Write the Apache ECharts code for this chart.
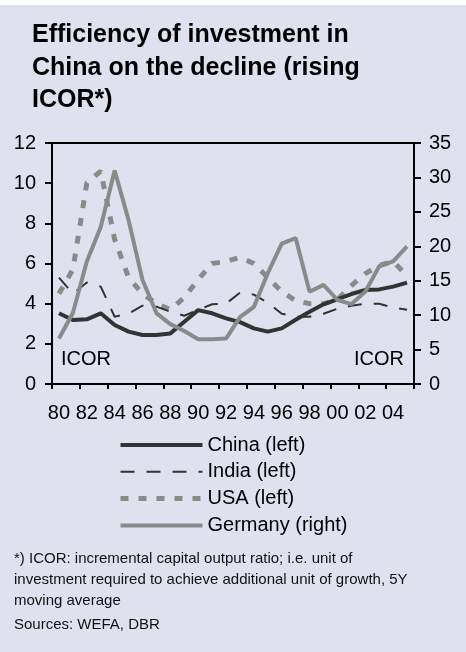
<!DOCTYPE html>
<html>
<head>
<meta charset="utf-8">
<script src="https://cdn.jsdelivr.net/npm/echarts@6/dist/echarts.min.js"></script>
<style>
html,body{margin:0;padding:0;background:#fff;}
#c{width:466px;height:652px;}
</style>
</head>
<body>
<div id="c"></div>
<script>
var years = ['80','81','82','83','84','85','86','87','88','89','90','91','92','93','94','95','96','97','98','99','00','01','02','03','04','05'];
var china   = [3.52,3.19,3.22,3.52,2.94,2.61,2.44,2.44,2.52,3.10,3.68,3.52,3.27,3.08,2.77,2.61,2.77,3.20,3.60,3.97,4.22,4.48,4.68,4.71,4.85,5.05];
var india   = [5.30,4.50,5.05,4.85,3.35,3.50,3.90,3.85,3.60,3.40,3.70,3.97,4.00,4.55,4.45,4.05,3.50,3.35,3.35,3.50,3.75,3.90,4.00,4.00,3.80,3.70];
var usa     = [4.5,5.7,10.0,10.6,7.2,5.3,4.5,4.0,3.7,4.3,5.2,6.0,6.1,6.3,6.0,5.3,4.6,4.15,4.0,4.0,4.2,4.9,5.5,5.9,6.1,5.4];
var germany = [6.6,10.3,17.8,22.8,31.0,23.8,15.1,10.3,8.7,7.7,6.5,6.5,6.6,9.7,11.2,16.1,20.4,21.2,13.4,14.4,12.2,11.6,13.4,17.1,17.8,20.0];
var seriesNames = ['China (left)','India (left)','USA (left)','Germany (right)'];
var titleText = 'Efficiency of investment in\nChina on the decline (rising\nICOR*)';
var footLines = ['*) ICOR: incremental capital output ratio; i.e. unit of',
                 'investment required to achieve additional unit of growth, 5Y',
                 'moving average'];
var sourceText = 'Sources: WEFA, DBR';
var axisLabelText = 'ICOR';

var FONT = '"Liberation Sans", Arial, Helvetica, sans-serif';
var chart = echarts.init(document.getElementById('c'), null, {renderer:'canvas'});
var axisLine = {show:true, lineStyle:{color:'#000', width:2}};
var option = {
  backgroundColor:'#dfe1ef',
  animation:false,
  textStyle:{fontFamily:FONT},
  title:{
    text:titleText, left:32, top:19, padding:0,
    textStyle:{fontFamily:FONT, fontSize:25, fontWeight:'bold', color:'#000', lineHeight:32.5}
  },
  grid:{left:52, right:52, top:143, bottom:268, show:true, borderColor:'#000', borderWidth:2, backgroundColor:'transparent'},
  legend:{
    orient:'vertical', left:118, top:435, itemWidth:82, itemHeight:14, itemGap:6.8,
    padding:0, selectedMode:false,
    itemStyle:{opacity:0},
    lineStyle:{width:'inherit', type:'inherit'},
    textStyle:{fontFamily:FONT, fontSize:20, color:'#000'},
    data:seriesNames
  },
  xAxis:{
    type:'category', data:years, boundaryGap:true,
    axisLine:axisLine,
    axisTick:{show:true, interval:1, length:5, lineStyle:{color:'#000', width:2}},
    axisLabel:{interval:1, margin:19, fontFamily:FONT, fontSize:20, color:'#000'},
    splitLine:{show:false}
  },
  yAxis:[
    {type:'value', min:0, max:12, interval:2, position:'left',
     axisLine:axisLine,
     axisTick:{show:true, length:7, lineStyle:{color:'#000', width:2}},
     axisLabel:{margin:16, fontFamily:FONT, fontSize:20, color:'#000'},
     splitLine:{show:false}},
    {type:'value', min:0, max:35, interval:5, position:'right',
     axisLine:axisLine,
     axisTick:{show:true, length:7, lineStyle:{color:'#000', width:2}},
     axisLabel:{margin:15, fontFamily:FONT, fontSize:20, color:'#000'},
     splitLine:{show:false}}
  ],
  series:[
    {name:seriesNames[0], type:'line', data:china, yAxisIndex:0, symbol:'none', z:5,
     lineStyle:{color:'#333333', width:4}, itemStyle:{color:'#333333'}},
    {name:seriesNames[1], type:'line', data:india, yAxisIndex:0, symbol:'none', z:4,
     lineStyle:{color:'#333333', width:2, type:[14,12]}, itemStyle:{color:'#333333'}},
    {name:seriesNames[2], type:'line', data:usa, yAxisIndex:0, symbol:'none', z:3,
     lineStyle:{color:'#8a8a8a', width:5, type:[8,10]}, itemStyle:{color:'#8a8a8a'}},
    {name:seriesNames[3], type:'line', data:germany, yAxisIndex:1, symbol:'none', z:6,
     lineStyle:{color:'#8a8a8a', width:4}, itemStyle:{color:'#8a8a8a'}}
  ],
  graphic:[
    {type:'rect', shape:{x:0,y:0,width:466,height:5}, style:{fill:'#ffffff'}, silent:true},
    {type:'text', x:61, y:359, style:{text:axisLabelText, font:'20px '+FONT, fill:'#000', align:'left', verticalAlign:'middle'}},
    {type:'text', x:404, y:359, style:{text:axisLabelText, font:'20px '+FONT, fill:'#000', align:'right', verticalAlign:'middle'}},
    {type:'text', x:14, y:558.5, style:{text:footLines[0], font:'15px '+FONT, fill:'#111', align:'left', verticalAlign:'middle'}},
    {type:'text', x:14, y:579.5, style:{text:footLines[1], font:'15px '+FONT, fill:'#111', align:'left', verticalAlign:'middle'}},
    {type:'text', x:14, y:600.5, style:{text:footLines[2], font:'15px '+FONT, fill:'#111', align:'left', verticalAlign:'middle'}},
    {type:'text', x:14, y:625, style:{text:sourceText, font:'15px '+FONT, fill:'#111', align:'left', verticalAlign:'middle'}}
  ]
};
chart.setOption(option);
</script>
</body>
</html>
